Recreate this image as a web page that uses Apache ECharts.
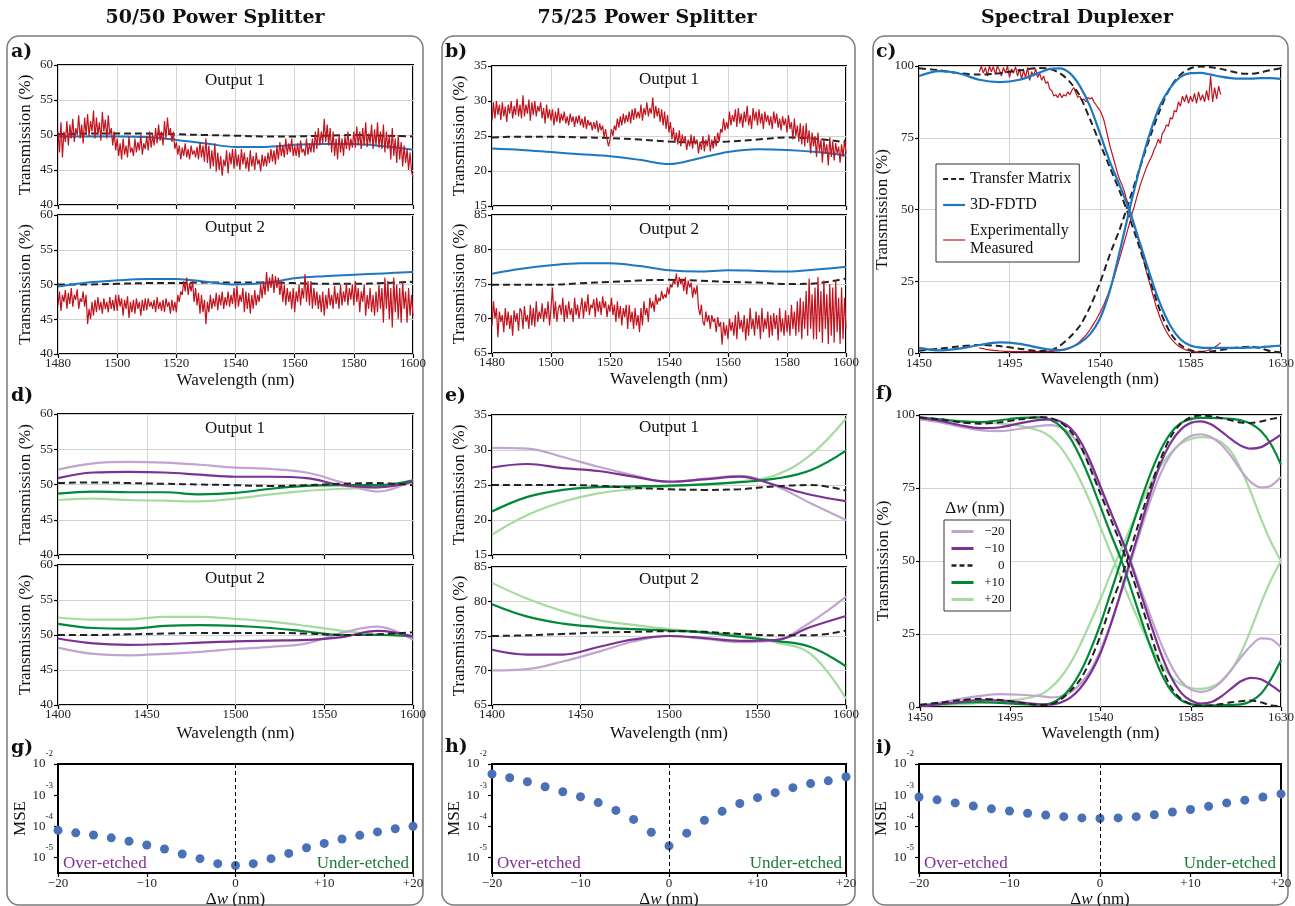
<!DOCTYPE html>
<html>
<head>
<meta charset="utf-8">
<title>Power splitters and spectral duplexer</title>
<script src="https://cdn.jsdelivr.net/npm/echarts@6/dist/echarts.min.js"></script>
<style>
html, body { margin: 0; padding: 0; background: #fff; }
#chart { width: 1295px; height: 906px; }
</style>
</head>
<body>
<div id="chart"></div>
<script>
const SERIF = '"Liberation Serif", "Times New Roman", serif';
const BOLD = '"DejaVu Serif", serif';

// ---------- a) / b) simulated curves, one sample every 10 nm ----------
const splitWl = [1480, 1490, 1500, 1510, 1520, 1530, 1540, 1550, 1560, 1570, 1580, 1590, 1600];
const a1Tm   = [50.1, 50.2, 50.2, 50.2, 50.1, 50.0, 49.9, 49.8, 49.8, 49.9, 50.0, 49.9, 49.8];
const a1Fdtd = [49.8, 49.8, 49.8, 49.7, 49.3, 48.8, 48.3, 48.3, 48.6, 48.7, 48.7, 48.4, 47.9];
const a2Tm   = [50.0, 50.0, 50.1, 50.2, 50.2, 50.3, 50.3, 50.3, 50.2, 50.1, 50.1, 50.2, 50.4];
const a2Fdtd = [49.7, 50.3, 50.6, 50.8, 50.8, 50.4, 50.0, 50.2, 50.9, 51.2, 51.4, 51.6, 51.8];
const b1Tm   = [24.8, 24.9, 24.9, 24.8, 24.7, 24.5, 24.2, 24.1, 24.2, 24.5, 24.8, 24.6, 24.1];
const b1Fdtd = [23.2, 23.0, 22.7, 22.4, 22.1, 21.6, 21.0, 21.8, 22.7, 23.1, 23.0, 22.7, 22.2];
const b2Tm   = [74.9, 74.9, 74.9, 75.1, 75.3, 75.5, 75.6, 75.5, 75.3, 75.2, 75.0, 75.1, 75.8];
const b2Fdtd = [76.5, 77.2, 77.7, 78.0, 78.0, 77.6, 77.0, 76.8, 77.0, 76.9, 76.8, 77.1, 77.5];

// measured splitter spectra, one sample every 0.5 nm from 1480 nm (one row = 10 nm)
const splitMeasStart = 1480, splitMeasStep = 0.5;
const a1Meas = [
  50.5, 47.5, 51.8, 46.8, 50.5, 49.0, 52.0, 48.5, 51.5, 49.5, 52.3, 49.0, 51.0, 50.0, 52.8, 49.5, 51.5, 48.8, 52.5, 50.0,
  53.0, 49.8, 52.0, 50.5, 53.5, 49.5, 52.5, 50.0, 51.8, 49.2, 53.3, 50.5, 52.2, 49.5, 52.8, 50.0, 51.0, 48.5, 50.5, 47.8,
  49.5, 47.0, 48.8, 46.5, 49.5, 47.2, 48.5, 46.8, 49.8, 47.5, 48.2, 47.0, 49.5, 47.5, 49.0, 47.8, 50.0, 47.2, 48.8, 48.0,
  49.8, 47.8, 50.5, 48.2, 50.0, 48.5, 51.0, 48.8, 51.5, 49.2, 50.5, 48.5, 52.0, 49.5, 52.5, 50.0, 51.0, 49.0, 50.5, 48.0,
  49.0, 47.2, 48.5, 46.5, 48.2, 47.0, 48.8, 46.8, 48.0, 46.5, 48.5, 47.2, 47.8, 46.8, 48.3, 46.5, 49.0, 46.8, 48.5, 46.2,
  49.5, 46.0, 48.5, 45.2, 47.8, 45.5, 48.8, 44.8, 47.5, 45.0, 47.0, 44.2, 46.5, 45.5, 47.8, 44.5, 47.5, 45.8, 48.0, 45.2,
  48.0, 45.5, 47.2, 45.0, 48.0, 45.8, 47.5, 45.2, 46.8, 44.8, 47.8, 45.5, 47.0, 45.0, 47.5, 45.8, 46.5, 44.8, 47.2, 45.5,
  47.0, 45.5, 47.5, 46.0, 48.0, 46.2, 47.8, 45.8, 48.5, 46.5, 49.0, 47.0, 48.5, 46.8, 49.5, 47.2, 48.8, 47.5, 49.5, 47.0,
  48.5, 47.0, 48.8, 46.8, 49.2, 47.5, 48.0, 47.0, 49.5, 47.2, 48.8, 47.5, 49.5, 47.5, 50.5, 48.0, 51.0, 48.5, 50.5, 48.8,
  52.3, 49.0, 51.5, 48.5, 51.0, 47.5, 50.5, 47.0, 49.5, 46.5, 50.0, 47.5, 49.5, 47.0, 49.8, 48.0, 50.5, 47.8, 49.5, 48.2,
  50.5, 48.2, 51.2, 48.5, 50.5, 48.0, 51.0, 48.5, 51.8, 48.3, 50.2, 48.8, 51.5, 48.0, 50.8, 48.5, 51.8, 48.2, 50.5, 48.0,
  51.5, 47.5, 50.5, 48.0, 50.0, 46.5, 51.0, 47.0, 49.5, 46.0, 50.0, 46.5, 49.0, 45.5, 48.5, 46.0, 48.0, 45.0, 47.5, 44.8,
  44.0];
const a2Meas = [
  47.0, 49.0, 46.2, 48.5, 47.5, 49.2, 46.5, 48.8, 47.2, 49.5, 46.8, 48.5, 47.8, 49.3, 46.5, 48.0, 47.5, 49.0, 46.8, 48.5,
  44.3, 46.5, 45.0, 47.5, 45.5, 47.8, 46.0, 48.2, 46.3, 47.5, 45.8, 48.0, 46.5, 47.5, 46.0, 48.2, 46.5, 47.8, 46.2, 48.5,
  46.2, 48.5, 46.8, 48.0, 45.5, 47.8, 46.5, 48.3, 45.2, 47.5, 46.0, 47.8, 45.8, 48.0, 46.5, 47.5, 45.5, 47.8, 46.2, 48.0,
  46.3, 48.0, 46.8, 47.5, 46.5, 47.8, 46.0, 48.2, 46.5, 47.5, 46.2, 47.8, 46.0, 48.0, 46.8, 47.5, 45.8, 47.8, 46.2, 47.5,
  46.0, 48.5, 47.5, 49.0, 48.5, 50.5, 49.0, 51.0, 48.5, 50.2, 49.0, 50.5, 47.5, 49.5, 47.0, 48.8, 45.8, 48.5, 46.0, 47.8,
  44.3, 47.5, 46.0, 48.5, 46.5, 48.0, 46.8, 48.8, 46.3, 48.5, 47.0, 49.0, 46.5, 48.2, 47.0, 49.0, 46.8, 48.5, 47.2, 49.5,
  46.5, 49.8, 46.8, 48.5, 47.5, 49.5, 46.0, 49.0, 46.5, 48.8, 45.8, 48.5, 46.5, 49.2, 47.0, 48.5, 47.5, 50.0, 48.0, 50.5,
  48.5, 51.8, 49.0, 51.0, 49.5, 51.5, 48.8, 51.2, 49.5, 51.0, 48.5, 50.5, 47.5, 50.0, 47.0, 49.5, 47.5, 49.0, 46.5, 49.5,
  46.0, 49.0, 47.5, 50.0, 47.0, 49.5, 48.0, 51.5, 47.5, 50.5, 47.0, 50.5, 46.5, 49.5, 47.0, 49.0, 46.5, 48.5, 46.0, 49.0,
  45.5, 48.5, 46.5, 49.5, 47.0, 48.5, 46.5, 49.8, 47.2, 48.8, 46.5, 50.0, 47.0, 49.0, 47.5, 50.2, 47.0, 49.5, 47.8, 50.0,
  47.0, 50.5, 47.5, 49.5, 46.0, 49.0, 47.5, 50.0, 45.5, 48.5, 46.5, 49.5, 46.0, 48.5, 45.5, 49.0, 46.0, 50.0, 46.5, 49.5,
  44.5, 51.0, 46.5, 50.5, 45.0, 49.5, 43.8, 51.0, 46.0, 50.0, 45.0, 49.5, 44.5, 50.5, 46.5, 49.0, 44.5, 49.5, 45.5, 48.5,
  45.5];
const b1Meas = [
  27.2, 29.8, 27.5, 30.0, 28.0, 29.5, 27.3, 29.8, 27.8, 29.2, 27.0, 29.5, 28.2, 30.0, 27.5, 29.3, 28.0, 30.3, 27.8, 29.5,
  27.5, 30.8, 27.8, 29.5, 28.2, 30.2, 27.2, 29.8, 28.0, 30.0, 27.8, 29.3, 28.5, 29.8, 27.5, 29.0, 26.8, 29.5, 27.5, 28.8,
  27.2, 28.8, 26.5, 28.5, 27.0, 29.0, 26.8, 28.2, 27.2, 28.5, 26.8, 27.8, 26.5, 28.2, 27.0, 27.8, 26.3, 27.8, 26.8, 28.0,
  26.5, 27.5, 26.2, 27.8, 26.0, 27.3, 26.5, 27.0, 25.8, 27.0, 26.0, 27.2, 25.5, 26.8, 25.8, 26.5, 24.8, 26.0, 24.5, 23.5,
  24.5, 26.0, 25.0, 26.5, 25.8, 27.5, 26.2, 27.8, 26.5, 28.2, 26.8, 28.0, 27.0, 28.5, 26.8, 28.8, 27.3, 29.0, 27.5, 28.5,
  27.5, 29.5, 27.2, 29.0, 28.0, 29.8, 27.8, 29.0, 28.2, 30.5, 27.5, 29.3, 27.8, 29.0, 27.0, 28.8, 26.5, 28.5, 26.0, 28.0,
  25.5, 27.0, 24.5, 26.2, 24.0, 25.5, 23.8, 25.8, 23.5, 25.2, 24.0, 25.0, 23.0, 24.5, 23.5, 25.2, 23.2, 25.0, 23.8, 24.5,
  22.5, 24.2, 23.0, 25.0, 22.8, 24.5, 23.5, 25.2, 22.8, 24.5, 23.2, 25.0, 23.5, 25.5, 24.2, 26.0, 25.5, 27.5, 25.8, 27.0,
  26.0, 28.5, 26.5, 28.0, 27.0, 28.8, 26.3, 29.0, 26.8, 28.2, 26.2, 28.5, 27.0, 29.3, 26.5, 28.0, 26.0, 29.0, 27.2, 28.5,
  26.5, 28.8, 26.8, 28.2, 26.0, 28.5, 27.0, 28.0, 26.5, 27.8, 26.0, 28.5, 26.8, 28.2, 26.2, 27.5, 25.8, 27.8, 26.5, 27.5,
  25.5, 28.0, 26.0, 27.0, 24.5, 27.5, 25.0, 26.5, 24.2, 26.8, 23.8, 26.5, 23.5, 26.8, 24.0, 25.8, 22.5, 25.5, 23.5, 25.0,
  22.0, 25.5, 22.8, 24.5, 21.2, 24.5, 22.5, 23.8, 20.8, 24.8, 22.0, 24.2, 21.5, 24.0, 22.5, 23.5, 21.2, 23.8, 22.0, 24.5,
  22.5];
const b2Meas = [
  69.0, 72.5, 70.0, 71.5, 67.3, 71.0, 69.5, 70.5, 68.0, 71.5, 69.0, 71.0, 68.5, 70.5, 67.5, 71.2, 69.5, 70.8, 68.2, 71.5,
  71.0, 68.5, 71.8, 69.5, 70.5, 68.5, 72.0, 69.0, 71.5, 68.8, 72.5, 69.5, 71.0, 70.0, 72.2, 69.5, 71.5, 70.0, 72.5, 69.0,
  71.5, 74.5, 70.0, 72.5, 69.5, 71.5, 72.0, 70.5, 73.0, 69.5, 72.0, 70.0, 72.5, 70.5, 71.5, 69.5, 73.0, 70.5, 72.0, 70.0,
  71.5, 73.0, 70.0, 72.5, 71.0, 73.5, 70.5, 72.0, 71.5, 72.8, 70.2, 73.0, 71.0, 72.5, 70.5, 73.2, 71.5, 72.5, 70.2, 72.0,
  71.0, 73.0, 70.5, 72.0, 69.5, 72.5, 70.0, 71.8, 69.0, 71.5, 70.2, 72.0, 68.5, 72.0, 69.5, 71.0, 68.5, 71.5, 69.0, 70.5,
  68.0, 71.5, 69.0, 72.5, 70.5, 71.5, 69.5, 73.0, 71.5, 72.5, 71.0, 73.5, 72.0, 73.0, 72.5, 74.0, 72.8, 73.5, 73.0, 74.5,
  73.5, 75.0, 74.5, 75.5, 75.0, 76.5, 74.5, 76.0, 75.0, 75.8, 74.0, 76.0, 73.5, 75.5, 74.5, 75.2, 73.0, 74.5, 73.5, 74.8,
  71.5, 70.5, 72.0, 69.5, 69.0, 71.0, 69.5, 70.5, 68.5, 70.5, 69.5, 70.0, 68.0, 70.2, 68.8, 69.5, 66.2, 69.5, 67.5, 69.0,
  67.0, 70.0, 68.2, 69.5, 67.5, 70.5, 67.0, 71.0, 68.5, 69.8, 68.0, 70.5, 66.8, 70.0, 67.5, 71.5, 68.5, 70.0, 67.5, 71.0,
  68.5, 70.5, 67.0, 71.5, 68.0, 70.0, 68.5, 71.0, 67.2, 70.5, 67.5, 70.8, 68.5, 70.5, 66.8, 71.5, 68.0, 70.0, 67.5, 71.2,
  68.0, 70.5, 67.5, 72.0, 68.5, 71.0, 67.5, 72.5, 68.0, 73.0, 67.0, 72.5, 68.5, 74.0, 67.5, 75.8, 68.5, 73.5, 67.0, 74.5,
  67.0, 76.0, 68.0, 74.0, 66.5, 75.5, 68.5, 73.5, 66.3, 75.0, 67.5, 74.5, 66.5, 75.5, 68.0, 73.0, 66.3, 74.5, 67.0, 73.0,
  68.5];

// ---------- d) / e) width sweeps, one sample every 20 nm ----------
const sweepWl = [1400, 1420, 1440, 1460, 1480, 1500, 1520, 1540, 1560, 1580, 1600];
const d1M20 = [52.1, 53.0, 53.2, 53.1, 52.8, 52.4, 52.2, 51.7, 50.3, 49.0, 50.6];
const d1M10 = [50.9, 51.7, 51.8, 51.7, 51.4, 51.1, 51.1, 50.9, 49.9, 49.6, 50.4];
const d1Zero = [50.2, 50.3, 50.2, 50.1, 50.0, 49.9, 49.8, 49.9, 50.1, 50.2, 49.9];
const d1P10 = [48.7, 49.0, 48.9, 48.9, 48.6, 48.8, 49.4, 49.8, 49.9, 49.9, 50.6];
const d1P20 = [47.8, 48.0, 47.8, 47.7, 47.6, 48.0, 48.6, 49.1, 49.4, 49.6, 50.5];
const d2M20 = [48.2, 47.3, 47.1, 47.3, 47.6, 48.0, 48.3, 48.8, 50.3, 51.2, 49.3];
const d2M10 = [49.5, 48.8, 48.6, 48.7, 48.9, 49.1, 49.2, 49.3, 49.7, 50.6, 49.8];
const d2Zero = [50.0, 50.0, 50.1, 50.2, 50.3, 50.3, 50.3, 50.2, 50.0, 50.1, 50.4];
const d2P10 = [51.6, 51.0, 50.9, 51.3, 51.4, 51.3, 51.0, 50.5, 50.0, 50.0, 49.8];
const d2P20 = [52.5, 52.2, 52.2, 52.6, 52.6, 52.3, 51.9, 51.3, 50.6, 50.1, 49.8];
const e1M20 = [30.3, 30.2, 29.0, 27.6, 26.4, 25.4, 25.9, 26.3, 24.9, 22.4, 20.0];
const e1M10 = [27.5, 28.0, 27.4, 27.0, 26.2, 25.5, 25.8, 26.2, 25.0, 23.6, 22.7];
const e1Zero = [25.0, 25.0, 25.0, 24.9, 24.6, 24.4, 24.3, 24.4, 24.8, 25.0, 24.2];
const e1P10 = [21.2, 23.3, 24.3, 24.7, 24.8, 24.9, 25.1, 25.4, 25.9, 27.1, 29.9];
const e1P20 = [17.9, 20.7, 22.6, 23.8, 24.4, 24.8, 25.1, 25.5, 26.4, 29.3, 34.5];
const e2M20 = [70.0, 70.2, 71.3, 72.7, 74.2, 75.0, 74.6, 74.1, 74.4, 77.0, 80.7];
const e2M10 = [73.0, 72.3, 72.3, 73.4, 74.5, 75.0, 74.7, 74.3, 74.4, 76.3, 77.9];
const e2Zero = [75.0, 75.1, 75.3, 75.5, 75.6, 75.7, 75.6, 75.3, 75.1, 75.1, 75.8];
const e2P10 = [79.6, 77.8, 76.8, 76.3, 76.0, 75.8, 75.5, 74.9, 74.3, 73.4, 70.6];
const e2P20 = [82.7, 80.4, 78.6, 77.3, 76.6, 76.0, 75.6, 75.1, 74.1, 72.4, 65.9];

// ---------- c) / f) spectral duplexer ----------
const duplexWl = [1450, 1460, 1470, 1480, 1490, 1500, 1510, 1515, 1520, 1525, 1530, 1535, 1540, 1545, 1550,
  1555, 1560, 1565, 1570, 1575, 1580, 1585, 1590, 1595, 1600, 1605, 1610, 1615, 1620, 1625, 1630];
const tmThru = [99.2, 98.5, 97.5, 97.0, 97.5, 98.5, 99.3, 99.0, 97.5, 94.5, 89.5, 81.5, 73.0, 64.5, 56.0,
  46.5, 36.0, 25.0, 14.5, 7.0, 2.8, 1.0, 0.4, 0.5, 1.0, 1.6, 2.0, 2.2, 1.6, 0.6, 0.2];
const tmCross = [0.8, 1.5, 2.3, 2.8, 2.4, 1.5, 0.7, 0.9, 2.5, 5.5, 9.5, 16.0, 24.5, 34.5, 43.5,
  54.0, 65.0, 75.5, 85.0, 92.5, 97.0, 99.2, 99.8, 99.6, 99.0, 98.2, 97.4, 97.3, 97.8, 98.6, 99.2];
const fdtdThru = [96.5, 98.2, 97.4, 95.2, 94.4, 95.2, 97.7, 99.0, 99.2, 97.5, 93.0, 86.0, 76.5, 66.5, 58.0,
  49.0, 38.0, 27.0, 17.0, 9.5, 4.8, 2.6, 1.9, 1.8, 1.8, 1.8, 1.8, 1.9, 2.0, 2.3, 2.6];
const fdtdCross = [1.8, 0.9, 1.5, 2.8, 3.7, 3.2, 1.8, 1.2, 1.0, 1.8, 3.5, 6.5, 12.0, 22.0, 36.0,
  51.0, 65.0, 77.0, 86.5, 92.5, 96.2, 97.5, 97.6, 97.0, 96.3, 95.8, 95.6, 95.6, 95.8, 95.8, 95.5];
const fM20Thru = [98.5, 97.5, 96.0, 94.8, 94.5, 95.3, 96.3, 96.5, 95.8, 93.5, 89.0, 82.5, 74.5, 66.5, 58.5,
  50.0, 40.5, 31.0, 22.0, 14.5, 9.0, 6.0, 5.2, 6.0, 8.5, 12.5, 17.0, 21.0, 23.5, 23.2, 20.5];
const fM20Cross = [0.5, 1.5, 2.8, 3.8, 4.4, 4.2, 3.7, 3.3, 3.6, 5.0, 8.0, 12.5, 19.5, 28.5, 38.5,
  49.5, 60.5, 71.0, 80.0, 86.5, 90.5, 92.8, 93.4, 92.5, 90.0, 86.0, 81.0, 77.0, 75.2, 75.8, 78.8];
const fM10Thru = [99.0, 98.0, 96.5, 95.5, 95.8, 97.2, 98.3, 98.5, 97.8, 95.5, 91.0, 84.0, 75.5, 67.0, 58.5,
  49.5, 39.0, 28.5, 18.5, 10.5, 5.0, 2.2, 1.2, 1.6, 3.5, 6.2, 8.8, 10.0, 9.5, 7.5, 5.0];
const fM10Cross = [0.4, 1.0, 1.8, 2.4, 2.3, 1.6, 0.9, 0.8, 1.5, 3.2, 6.5, 11.5, 18.5, 28.0, 39.0,
  50.5, 62.0, 73.5, 83.5, 90.5, 95.0, 97.3, 97.8, 96.8, 94.5, 91.8, 89.5, 88.5, 89.0, 91.0, 93.3];
const fP10Thru = [99.0, 98.5, 97.8, 97.6, 98.2, 99.0, 99.2, 98.4, 96.2, 92.0, 85.5, 77.5, 68.5, 59.5, 51.0,
  41.0, 30.5, 20.5, 12.0, 5.8, 2.4, 1.0, 0.6, 0.6, 0.6, 0.7, 0.9, 2.0, 4.5, 9.5, 16.0];
const fP10Cross = [0.5, 1.0, 1.5, 1.7, 1.4, 1.0, 0.8, 1.2, 3.0, 6.5, 12.0, 19.5, 28.5, 39.0, 49.5,
  60.0, 70.5, 80.0, 88.0, 93.8, 97.2, 98.6, 99.0, 99.0, 98.9, 98.7, 98.2, 97.0, 94.5, 90.0, 83.0];
const fP20Thru = [99.0, 98.6, 98.0, 97.5, 97.0, 96.3, 94.5, 92.5, 89.0, 84.0, 77.5, 70.0, 61.5, 53.0, 44.5,
  36.0, 28.0, 21.0, 15.0, 10.5, 7.8, 6.5, 6.2, 6.8, 8.8, 12.5, 18.5, 26.5, 35.5, 43.5, 50.0];
const fP20Cross = [0.5, 0.7, 1.0, 1.4, 1.9, 2.6, 4.3, 6.5, 10.0, 15.0, 21.5, 29.0, 37.0, 45.5, 53.5,
  61.5, 69.5, 76.5, 82.5, 87.0, 90.2, 91.8, 92.4, 92.2, 90.8, 87.5, 81.5, 73.5, 64.5, 56.5, 50.0];

// c) measured duplexer outputs, one sample per nm starting at 1480 nm
const duplexMeasStart = 1480;
const cMeasThru = [
  98.0, 100, 97.5, 99.5, 96.5, 100, 98.0, 99.8, 97.0, 100,
  98.5, 96.5, 99.5, 97.5, 100, 96.0, 99.0, 97.5, 99.8, 96.5,
  99.0, 95.5, 98.5, 96.0, 99.5, 95.0, 98.0, 96.5, 99.0, 96.0,
  97.5, 95.0, 96.5, 94.0, 94.5, 92.0, 91.5, 89.5, 90.0, 89.0,
  90.5, 89.0, 90.0, 89.5, 91.0, 90.0, 91.5, 92.5, 90.5, 89.0,
  89.5, 88.0, 88.5, 87.5, 89.0, 88.5, 89.0, 87.5, 86.5, 85.5,
  84.5, 83.0, 81.0, 78.0, 75.0, 72.0, 69.5, 67.0, 64.5, 62.0,
  60.0, 58.5, 56.5, 54.0, 52.0, 49.5, 47.0, 44.5, 42.0, 39.5,
  37.0, 34.5, 31.5, 28.5, 26.0, 23.5, 21.0, 18.5, 16.0, 14.0,
  12.0, 10.3, 8.8, 7.5, 6.3, 5.3, 4.5, 3.7, 3.0, 2.4,
  2.0, 1.6, 1.3, 1.0, 0.8, 0.6, 0.5, 0.4, 0.4, 0.4,
  0.4, 0.5, 0.6, 0.8, 1.0, 1.3, 1.6, 2.0, 2.5, 3.0,
  3.6];
const cMeasCross = [
  1.8, 1.6, 1.5, 1.3, 1.2, 1.1, 1.0, 0.9, 0.8, 0.8,
  0.7, 0.7, 0.6, 0.6, 0.6, 0.5, 0.5, 0.5, 0.5, 0.5,
  0.5, 0.5, 0.5, 0.5, 0.5, 0.5, 0.5, 0.5, 0.5, 0.5,
  0.5, 0.5, 0.5, 0.5, 0.5, 0.5, 0.6, 0.6, 0.7, 0.7,
  0.8, 0.9, 1.0, 1.2, 1.4, 1.7, 2.0, 2.4, 2.9, 3.4,
  4.0, 4.7, 5.4, 6.2, 7.1, 8.1, 9.2, 10.3, 11.5, 12.8,
  14.1, 15.5, 17.0, 18.7, 20.4, 22.3, 24.3, 26.5, 28.8, 31.2,
  33.6, 36.0, 38.5, 41.0, 43.5, 46.0, 48.7, 51.0, 53.5, 56.0,
  58.5, 60.5, 62.5, 64.5, 66.0, 67.5, 69.0, 71.0, 72.5, 74.5,
  73.0, 76.5, 77.5, 79.5, 79.0, 82.0, 81.5, 84.5, 84.0, 87.5,
  86.0, 89.5, 87.5, 90.0, 87.0, 89.5, 87.5, 90.5, 87.0, 91.0,
  88.0, 90.0, 87.5, 91.5, 88.0, 96.5, 87.5, 92.5, 88.5, 93.0,
  90.0];

// ---------- g) h) i) fit error against width offset ----------
const dwSteps = [-20, -18, -16, -14, -12, -10, -8, -6, -4, -2, 0, 2, 4, 6, 8, 10, 12, 14, 16, 18, 20];
const gLogMse = [-4.13, -4.21, -4.28, -4.37, -4.48, -4.60, -4.73, -4.89, -5.04, -5.20, -5.26,
  -5.20, -5.04, -4.87, -4.69, -4.55, -4.41, -4.29, -4.18, -4.08, -4.00];
const hLogMse = [-2.32, -2.44, -2.57, -2.73, -2.89, -3.05, -3.24, -3.49, -3.78, -4.19, -4.63,
  -4.22, -3.81, -3.52, -3.27, -3.08, -2.92, -2.76, -2.63, -2.54, -2.41];
const iLogMse = [-3.06, -3.15, -3.25, -3.35, -3.44, -3.51, -3.58, -3.64, -3.69, -3.73, -3.75,
  -3.73, -3.69, -3.63, -3.54, -3.46, -3.36, -3.25, -3.16, -3.06, -2.96];
const mseDecades = [-5, -4, -3, -2];
const duplexTicks = [1450, 1495, 1540, 1585, 1630];

// colours
const C_TM = '#222222', C_FDTD = '#1f77c0', C_MEAS = '#c0141f';
const C_M20 = '#c2a5cf', C_M10 = '#7b3294', C_P10 = '#008837', C_P20 = '#a6dba0';
const C_DOT = '#4a70b5';

const grids = [], xAxes = [], yAxes = [], series = [], graphics = [];

function axis(gi, o) {
  const a = {
    gridIndex: gi, type: 'value', min: o.min, max: o.max,
    axisLine: { show: false, onZero: false },
    axisTick: { show: true, inside: false, length: 4, lineStyle: { color: '#000', width: 1.2 } },
    axisLabel: { show: o.labels !== false, color: '#222', fontFamily: SERIF, fontSize: 13, margin: o.margin || 5,
      formatter: o.fmt || (v => String(v)) },
    splitLine: { show: o.split !== false, lineStyle: { color: '#d3d3d3', width: 1 } },
    name: o.name || '', nameLocation: 'middle', nameGap: o.gap || 20,
    nameTextStyle: { color: '#111', fontFamily: SERIF, fontSize: 17 }
  };
  if (o.interval) a.interval = o.interval;
  if (o.custom) { a.axisTick.customValues = o.custom; a.axisLabel.customValues = o.custom; }
  if (o.labelRich) a.axisLabel.rich = o.labelRich;
  if (o.nameRich) a.nameTextStyle.rich = o.nameRich;
  return a;
}

function panel(box, xo, yo) {
  const gi = grids.length;
  grids.push({ left: box[0], top: box[1], width: box[2], height: box[3], show: true,
    borderColor: '#000', borderWidth: 2, backgroundColor: 'rgba(0,0,0,0)',
    containLabel: false, outerBoundsMode: 'none' });
  xAxes.push(axis(gi, xo));
  yAxes.push(axis(gi, yo));
  return gi;
}

function curve(gi, name, xs, ys, color, width, dashed, smooth, z) {
  series.push({
    type: 'line', name: name, xAxisIndex: gi, yAxisIndex: gi,
    data: xs.map((x, k) => [x, ys[k]]),
    showSymbol: false, symbol: 'none', smooth: smooth,
    lineStyle: { color: color, width: width, type: dashed ? [7, 4] : 'solid' },
    itemStyle: { color: color }, z: z || 2, silent: true
  });
}

function text(x, y, str, font, color, align, rich) {
  graphics.push({ type: 'text', x: x, y: y, z: 10, silent: true,
    style: { text: str, font: font, fill: color, align: align || 'center', verticalAlign: 'middle', rich: rich } });
}

const splitMeasWl = a1Meas.map((v, k) => splitMeasStart + k * splitMeasStep);
const duplexMeasWl = cMeasThru.map((v, k) => duplexMeasStart + k);
const dwName = { n: { fontFamily: SERIF, fontSize: 17, color: '#111' },
  i: { fontFamily: SERIF, fontSize: 17, fontStyle: 'italic', color: '#111' } };
const supRich = { b: { fontFamily: SERIF, fontSize: 13, color: '#222', lineHeight: 16 },
  s: { fontFamily: SERIF, fontSize: 9, color: '#222', lineHeight: 10, padding: [0, 0, 20, 0] } };
const TRANS = 'Transmission (%)';
const WAVE = 'Wavelength (nm)';
const MEAS_W = 1.2;

// ---- column 1: 50/50 splitter ----
let g;
g = panel([58, 65, 355, 140], { min: 1480, max: 1600, interval: 20, labels: false },
  { min: 40, max: 60, interval: 5, name: TRANS, gap: 24 });
curve(g, 'a1 tm', splitWl, a1Tm, C_TM, 2, true, 0.35);
curve(g, 'a1 fdtd', splitWl, a1Fdtd, C_FDTD, 2, false, 0.35);
curve(g, 'a1 meas', splitMeasWl, a1Meas, C_MEAS, MEAS_W, false, false, 3);
g = panel([58, 215, 355, 139], { min: 1480, max: 1600, interval: 20, name: WAVE, gap: 18, margin: 3 },
  { min: 40, max: 60, interval: 5, name: TRANS, gap: 24 });
curve(g, 'a2 tm', splitWl, a2Tm, C_TM, 2, true, 0.35);
curve(g, 'a2 fdtd', splitWl, a2Fdtd, C_FDTD, 2, false, 0.35);
curve(g, 'a2 meas', splitMeasWl, a2Meas, C_MEAS, MEAS_W, false, false, 3);

g = panel([58, 414, 355, 141], { min: 1400, max: 1600, interval: 50, labels: false },
  { min: 40, max: 60, interval: 5, name: TRANS, gap: 24 });
curve(g, 'd1 +20', sweepWl, d1P20, C_P20, 2.2, false, 0.4);
curve(g, 'd1 -20', sweepWl, d1M20, C_M20, 2.2, false, 0.4);
curve(g, 'd1 +10', sweepWl, d1P10, C_P10, 2.2, false, 0.4);
curve(g, 'd1 -10', sweepWl, d1M10, C_M10, 2.2, false, 0.4);
curve(g, 'd1 0', sweepWl, d1Zero, C_TM, 2, true, 0.4, 3);
g = panel([58, 565, 355, 140], { min: 1400, max: 1600, interval: 50, name: WAVE, gap: 20, margin: 3 },
  { min: 40, max: 60, interval: 5, name: TRANS, gap: 24 });
curve(g, 'd2 +20', sweepWl, d2P20, C_P20, 2.2, false, 0.4);
curve(g, 'd2 -20', sweepWl, d2M20, C_M20, 2.2, false, 0.4);
curve(g, 'd2 +10', sweepWl, d2P10, C_P10, 2.2, false, 0.4);
curve(g, 'd2 -10', sweepWl, d2M10, C_M10, 2.2, false, 0.4);
curve(g, 'd2 0', sweepWl, d2Zero, C_TM, 2, true, 0.4, 3);

// ---- column 2: 75/25 splitter ----
g = panel([492, 66, 354, 140], { min: 1480, max: 1600, interval: 20, labels: false },
  { min: 15, max: 35, interval: 5, name: TRANS, gap: 24 });
curve(g, 'b1 tm', splitWl, b1Tm, C_TM, 2, true, 0.35);
curve(g, 'b1 fdtd', splitWl, b1Fdtd, C_FDTD, 2, false, 0.35);
curve(g, 'b1 meas', splitMeasWl, b1Meas, C_MEAS, MEAS_W, false, false, 3);
g = panel([492, 215, 354, 138], { min: 1480, max: 1600, interval: 20, name: WAVE, gap: 18, margin: 3 },
  { min: 65, max: 85, interval: 5, name: TRANS, gap: 24 });
curve(g, 'b2 tm', splitWl, b2Tm, C_TM, 2, true, 0.35);
curve(g, 'b2 fdtd', splitWl, b2Fdtd, C_FDTD, 2, false, 0.35);
curve(g, 'b2 meas', splitMeasWl, b2Meas, C_MEAS, MEAS_W, false, false, 3);

g = panel([492, 415, 354, 140], { min: 1400, max: 1600, interval: 50, labels: false },
  { min: 15, max: 35, interval: 5, name: TRANS, gap: 24 });
curve(g, 'e1 +20', sweepWl, e1P20, C_P20, 2.2, false, 0.4);
curve(g, 'e1 -20', sweepWl, e1M20, C_M20, 2.2, false, 0.4);
curve(g, 'e1 +10', sweepWl, e1P10, C_P10, 2.2, false, 0.4);
curve(g, 'e1 -10', sweepWl, e1M10, C_M10, 2.2, false, 0.4);
curve(g, 'e1 0', sweepWl, e1Zero, C_TM, 2, true, 0.4, 3);
g = panel([492, 567, 354, 138], { min: 1400, max: 1600, interval: 50, name: WAVE, gap: 20, margin: 3 },
  { min: 65, max: 85, interval: 5, name: TRANS, gap: 24 });
curve(g, 'e2 +20', sweepWl, e2P20, C_P20, 2.2, false, 0.4);
curve(g, 'e2 -20', sweepWl, e2M20, C_M20, 2.2, false, 0.4);
curve(g, 'e2 +10', sweepWl, e2P10, C_P10, 2.2, false, 0.4);
curve(g, 'e2 -10', sweepWl, e2M10, C_M10, 2.2, false, 0.4);
curve(g, 'e2 0', sweepWl, e2Zero, C_TM, 2, true, 0.4, 3);

// ---- column 3: spectral duplexer ----
g = panel([919, 66, 362, 287], { min: 1450, max: 1630, custom: duplexTicks, name: WAVE, gap: 18, margin: 4 },
  { min: 0, max: 100, interval: 25, name: TRANS, gap: 26 });
curve(g, 'Experimentally\nMeasured', duplexMeasWl, cMeasThru, C_MEAS, 1.2, false, false);
curve(g, 'Experimentally\nMeasured', duplexMeasWl, cMeasCross, C_MEAS, 1.2, false, false);
curve(g, 'Transfer Matrix', duplexWl, tmThru, C_TM, 2, true, 0.3);
curve(g, 'Transfer Matrix', duplexWl, tmCross, C_TM, 2, true, 0.3);
curve(g, '3D-FDTD', duplexWl, fdtdThru, C_FDTD, 2.2, false, 0.3);
curve(g, '3D-FDTD', duplexWl, fdtdCross, C_FDTD, 2.2, false, 0.3);

g = panel([920, 415, 361, 292], { min: 1450, max: 1630, custom: duplexTicks, name: WAVE, gap: 14, margin: 4 },
  { min: 0, max: 100, interval: 25, name: TRANS, gap: 26 });
curve(g, '+20', duplexWl, fP20Thru, C_P20, 2.2, false, 0.3);
curve(g, '+20', duplexWl, fP20Cross, C_P20, 2.2, false, 0.3);
curve(g, '\u221220', duplexWl, fM20Thru, C_M20, 2.2, false, 0.3);
curve(g, '\u221220', duplexWl, fM20Cross, C_M20, 2.2, false, 0.3);
curve(g, '+10', duplexWl, fP10Thru, C_P10, 2.2, false, 0.3);
curve(g, '+10', duplexWl, fP10Cross, C_P10, 2.2, false, 0.3);
curve(g, '\u221210', duplexWl, fM10Thru, C_M10, 2.2, false, 0.3);
curve(g, '\u221210', duplexWl, fM10Cross, C_M10, 2.2, false, 0.3);
curve(g, '0', duplexWl, tmThru, C_TM, 2, true, 0.3, 3);
curve(g, '0', duplexWl, tmCross, C_TM, 2, true, 0.3, 3);

// ---- bottom row: MSE vs width offset ----
const dwFmt = v => v > 0 ? '+' + v : (v < 0 ? '\u2212' + (-v) : '0');
const supFmt = v => '{b|10}{s|' + v + '}';
function msePanel(left, width, logs) {
  const gi = panel([left, 764, width, 109],
    { min: -20, max: 20, interval: 10, split: false, fmt: dwFmt, name: '{n|\u0394}{i|w}{n| (nm)}',
      nameRich: dwName, gap: 13, margin: 4 },
    { min: -5.5, max: -2, custom: mseDecades, split: false, fmt: supFmt, labelRich: supRich,
      name: 'MSE', gap: 28 });
  series.push({
    type: 'scatter', xAxisIndex: gi, yAxisIndex: gi, name: 'mse' + gi,
    data: dwSteps.map((d, k) => [d, logs[k]]), symbolSize: 9,
    itemStyle: { color: C_DOT, opacity: 1 }, z: 3, silent: true, clip: false,
    markLine: { silent: true, symbol: 'none', label: { show: false },
      lineStyle: { color: '#000', width: 1, type: [4, 3] }, data: [{ xAxis: 0 }] }
  });
}
msePanel(58, 355, gLogMse);
msePanel(492, 354, hLogMse);
msePanel(919, 362, iLogMse);

// ---- frames, titles, panel letters, inner labels ----
[[7, 36, 416, 869], [442, 36, 413, 869], [873, 36, 415, 869]].forEach(b => {
  graphics.push({ type: 'rect', z: 0, silent: true, shape: { x: b[0], y: b[1], width: b[2], height: b[3], r: 12 },
    style: { fill: 'none', stroke: '#7a7a7a', lineWidth: 1.5 } });
});
const titleFont = 'bold 19px ' + BOLD;
text(215, 18, '50/50 Power Splitter', titleFont, '#111');
text(647, 18, '75/25 Power Splitter', titleFont, '#111');
text(1077, 18, 'Spectral Duplexer', titleFont, '#111');
[['a)', 11, 52], ['b)', 445, 52], ['c)', 876, 52], ['d)', 11, 396], ['e)', 445, 396], ['f)', 876, 394],
 ['g)', 11, 748], ['h)', 445, 747], ['i)', 876, 748]].forEach(p => text(p[1], p[2], p[0], titleFont, '#111', 'left'));
const outFont = '17px ' + SERIF;
text(235, 81, 'Output 1', outFont, '#111');
text(235, 228, 'Output 2', outFont, '#111');
text(235, 429, 'Output 1', outFont, '#111');
text(235, 579, 'Output 2', outFont, '#111');
text(669, 80, 'Output 1', outFont, '#111');
text(669, 230, 'Output 2', outFont, '#111');
text(669, 428, 'Output 1', outFont, '#111');
text(669, 580, 'Output 2', outFont, '#111');
[[63, 409], [497, 842], [924, 1276]].forEach(p => {
  text(p[0], 864, 'Over-etched', outFont, '#7b3294', 'left');
  text(p[1], 864, 'Under-etched', outFont, '#1b7837', 'right');
});
text(975, 509, '{n|\u0394}{i|w}{n| (nm)}', outFont, '#111', 'center', dwName);

const noDot = { color: 'rgba(0,0,0,0)', borderWidth: 0 };
const chart = echarts.init(document.getElementById('chart'));
chart.setOption({
  animation: false,
  backgroundColor: '#fff',
  grid: grids,
  xAxis: xAxes,
  yAxis: yAxes,
  legend: [
    { data: [
        { name: 'Transfer Matrix', lineStyle: { color: C_TM, width: 2, type: [5, 3] } },
        { name: '3D-FDTD', lineStyle: { color: C_FDTD, width: 2.2 } },
        { name: 'Experimentally\nMeasured', lineStyle: { color: C_MEAS, width: 1.2 } }],
      left: 936, top: 164, itemStyle: noDot,
      orient: 'vertical', itemGap: 8, itemWidth: 22, itemHeight: 12, padding: [6, 8, 4, 6],
      borderColor: '#333', borderWidth: 1, borderRadius: 0, backgroundColor: '#fff', selectedMode: false,
      textStyle: { fontFamily: SERIF, fontSize: 16, color: '#111', lineHeight: 18 } },
    { data: [
        { name: '\u221220', lineStyle: { color: C_M20, width: 3 } },
        { name: '\u221210', lineStyle: { color: C_M10, width: 3 } },
        { name: '0', lineStyle: { color: C_TM, width: 2.5, type: [5, 3] } },
        { name: '+10', lineStyle: { color: C_P10, width: 3 } },
        { name: '+20', lineStyle: { color: C_P20, width: 3 } }],
      left: 944, top: 520, itemStyle: noDot,
      orient: 'vertical', itemGap: 4, itemWidth: 22, itemHeight: 12, padding: [5, 6, 5, 6],
      borderColor: '#333', borderWidth: 1, borderRadius: 0, backgroundColor: '#fff', selectedMode: false,
      formatter: name => '{r|' + name + '}',
      textStyle: { fontFamily: SERIF, fontSize: 13, color: '#111',
        rich: { r: { fontFamily: SERIF, fontSize: 13, color: '#111', width: 26, align: 'right' } } } }
  ],
  graphic: graphics,
  series: series
});
</script>
</body>
</html>
